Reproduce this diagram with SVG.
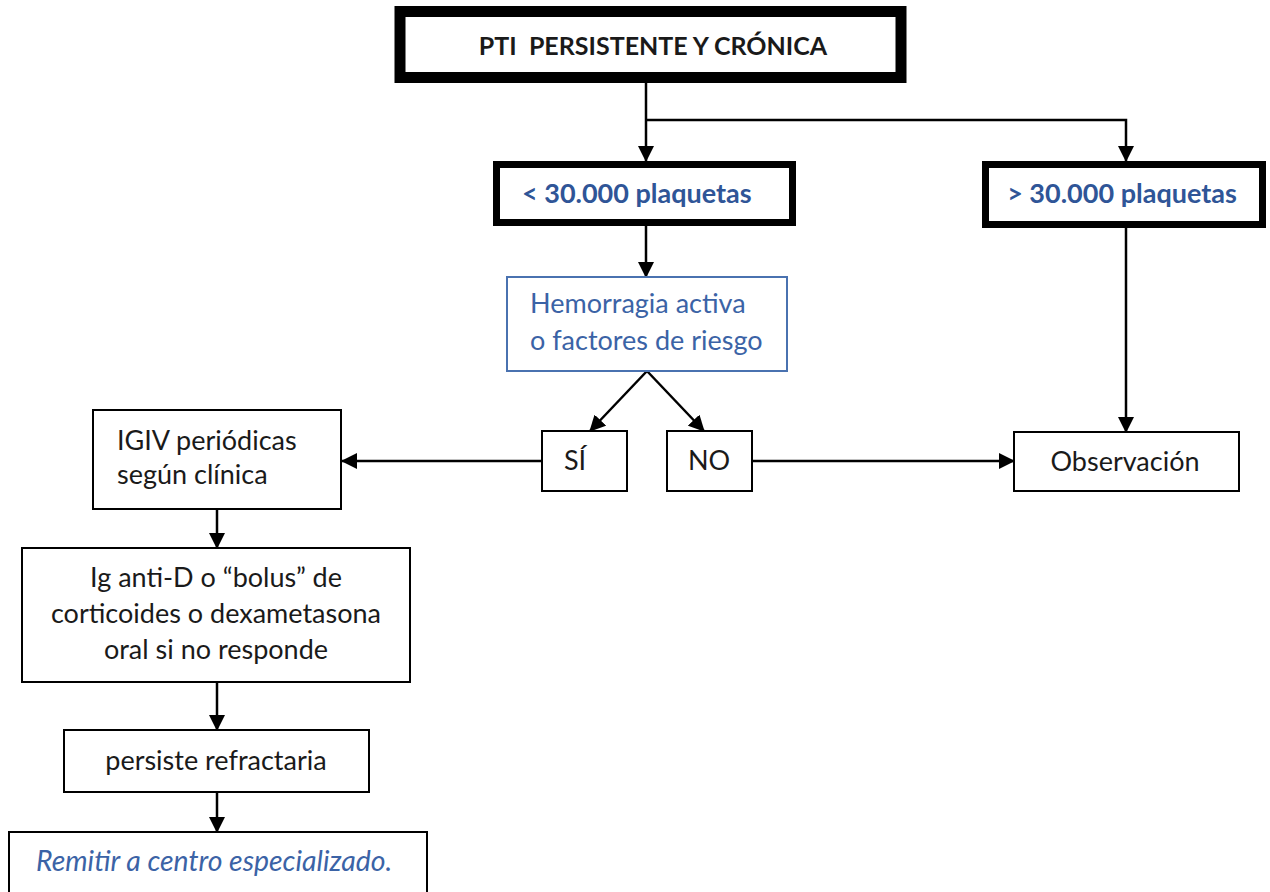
<svg xmlns="http://www.w3.org/2000/svg" width="1270" height="892" viewBox="0 0 1270 892">
<defs>
<marker id="arr" markerUnits="userSpaceOnUse" markerWidth="16" markerHeight="16" viewBox="0 0 16 16" refX="15" refY="8" orient="auto">
<path d="M0,0 L16,8 L0,16 Z" fill="#000"/>
</marker>
</defs>
<style>
.t{font-family:Lato,"Liberation Sans",sans-serif;font-size:27px;fill:#1a1a1a}
.b{font-weight:bold}
.title{font-size:25px}
.it{font-style:italic;font-size:28.4px}
.blue{fill:#2F5597}
.hb{fill:#3B63A6}
.box{fill:#fff;stroke:#000;stroke-width:2}
.thick{fill:#fff;stroke:#000;stroke-width:11}
.mid{fill:#fff;stroke:#000;stroke-width:7}
.bluebox{fill:#fff;stroke:#4A72B0;stroke-width:2}
.c{fill:none;stroke:#000;stroke-width:2.5;marker-end:url(#arr)}
</style>
<rect width="1270" height="892" fill="#fff"/>
<g id="connectors">
<line class="c" x1="646" y1="83" x2="646" y2="161"/>
<polyline class="c" points="646,120 1126,120 1126,161"/>
<line class="c" x1="646" y1="226" x2="646" y2="277"/>
<line class="c" x1="647" y1="371" x2="590" y2="431"/>
<line class="c" x1="647" y1="371" x2="704" y2="431"/>
<line class="c" x1="542" y1="461" x2="342" y2="461"/>
<line class="c" x1="752" y1="461" x2="1014" y2="461"/>
<line class="c" x1="1126" y1="228" x2="1126" y2="432"/>
<line class="c" x1="217" y1="509" x2="217" y2="548"/>
<line class="c" x1="217" y1="682" x2="217" y2="730"/>
<line class="c" x1="217" y1="792" x2="217" y2="832"/>
</g>
<g id="n-top">
<rect class="thick" x="400" y="11.5" width="501" height="66"/>
<text class="t b title" x="653" y="55" text-anchor="middle" xml:space="preserve">PTI  PERSISTENTE Y CRÓNICA</text>
</g>
<g id="n-menos30">
<rect class="mid" x="496.5" y="164.5" width="296" height="58"/>
<text class="t b blue" x="522" y="203">&lt; 30.000 plaquetas</text>
</g>
<g id="n-mas30">
<rect class="mid" x="985.5" y="164.5" width="277" height="60"/>
<text class="t b blue" x="1122" y="203" text-anchor="middle">&gt; 30.000 plaquetas</text>
</g>
<g id="n-hemorragia">
<rect class="bluebox" x="507" y="277" width="280" height="94"/>
<text class="t hb" x="530" y="313">Hemorragia activa</text>
<text class="t hb" x="530" y="350">o factores de riesgo</text>
</g>
<g id="n-si">
<rect class="box" x="542" y="431" width="85" height="60"/>
<text class="t" x="575" y="470" text-anchor="middle">SÍ</text>
</g>
<g id="n-no">
<rect class="box" x="667" y="431" width="85" height="60"/>
<text class="t" x="709" y="470" text-anchor="middle">NO</text>
</g>
<g id="n-observacion">
<rect class="box" x="1014" y="432" width="225" height="59"/>
<text class="t" x="1125" y="471" text-anchor="middle">Observación</text>
</g>
<g id="n-igiv">
<rect class="box" x="93" y="410" width="248" height="99"/>
<text class="t" x="117" y="450">IGIV periódicas</text>
<text class="t" x="117" y="484">según clínica</text>
</g>
<g id="n-antid">
<rect class="box" x="22" y="548" width="388" height="134"/>
<text class="t" x="216" y="587" text-anchor="middle">Ig anti-D o “bolus” de</text>
<text class="t" x="216" y="623" text-anchor="middle">corticoides o dexametasona</text>
<text class="t" x="216" y="659" text-anchor="middle">oral si no responde</text>
</g>
<g id="n-persiste">
<rect class="box" x="64" y="730" width="305" height="62"/>
<text class="t" x="216" y="770" text-anchor="middle">persiste refractaria</text>
</g>
<g id="n-remitir">
<rect class="box" x="9" y="832" width="418" height="80"/>
<text class="t hb it" x="36" y="871">Remitir a centro especializado.</text>
</g>
</svg>
